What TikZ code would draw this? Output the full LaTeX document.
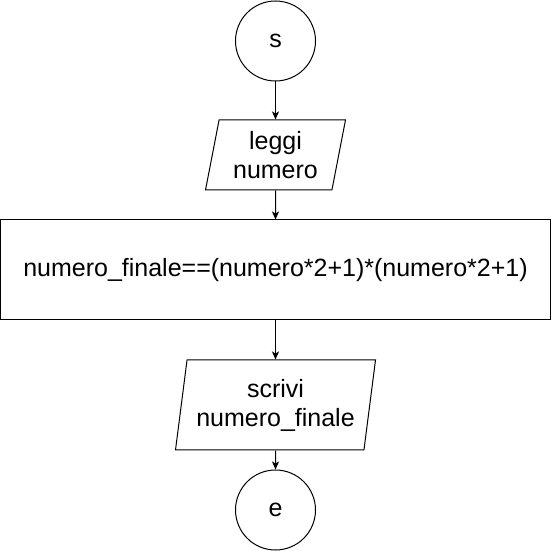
\documentclass[tikz,border=0pt]{standalone}
\usepackage{fontspec}
\setmainfont{Liberation Sans}
\usetikzlibrary{shapes.geometric,arrows.meta}

\tikzset{
    flowtext/.style={font=\fontsize{25}{29}\selectfont, align=center, line width=1pt, draw, inner sep=0pt},
    terminal/.style={flowtext, circle, minimum size=80pt},
    io/.style={flowtext, trapezium, trapezium stretches body=true, trapezium left angle=#1, trapezium right angle=180-#1},
    process/.style={flowtext, rectangle, minimum width=550pt, minimum height=100pt},
    flow/.style={-{Stealth[length=8pt,width=7pt,inset=2pt]}, line width=1pt},
}

\begin{document}
\begin{tikzpicture}[x=1pt,y=1pt]
        \useasboundingbox (0,0) rectangle (551,551);
        
        %% Nodes of the flowchart
        \node [terminal] (start) at (275.5,510) {s};
        \node [io=74, minimum width=140pt, minimum height=70pt] (read) at (275.5,396) {leggi\\numero};
        \node [process] (calc) at (275.5,281) {numero\_finale==(numero*2+1)*(numero*2+1)};
        \node [io=77.5, minimum width=200pt, minimum height=90pt] (write) at (275.5,146) {scrivi\\numero\_finale};
        \node [terminal] (stop) at (275.5,41) {e};
        
        %% Arrows
        \draw [flow] (start) -- (read);
        \draw [flow] (read) -- (calc);
        \draw [flow] (calc) -- (write);
        \draw [flow] (write) -- (stop);
    \end{tikzpicture}
\end{document}
